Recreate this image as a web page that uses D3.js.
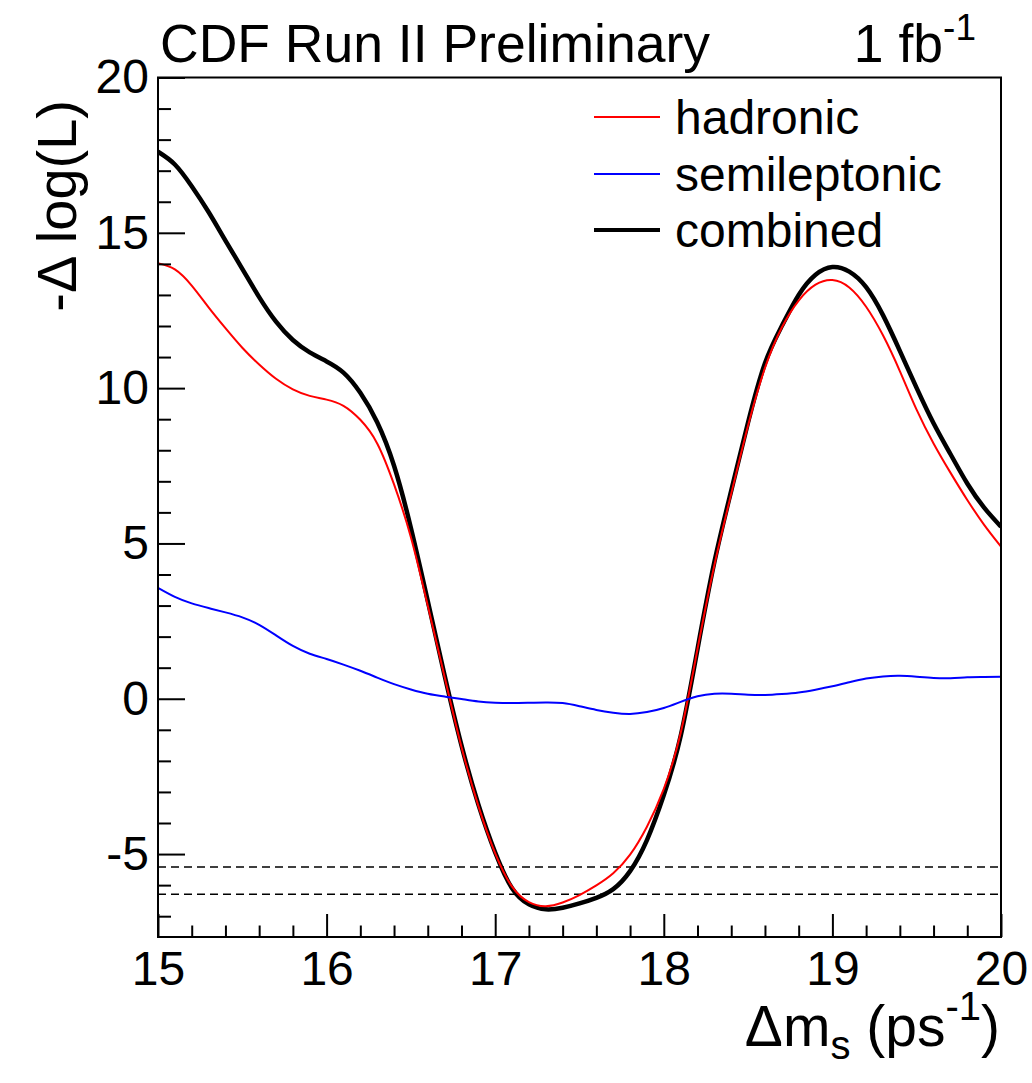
<!DOCTYPE html>
<html>
<head>
<meta charset="utf-8">
<script src="https://cdn.jsdelivr.net/npm/d3@7"></script>
<style>
  html, body { margin: 0; padding: 0; background: #fff; }
  svg { display: block; }
  text { font-family: "Liberation Sans", Arial, Helvetica, sans-serif; fill: #000; }
</style>
</head>
<body>
<svg id="chart" width="1032" height="1083"></svg>
<script>
// ---- data ----
const dms = [15.0,15.1,15.2,15.3,15.4,15.5,15.6,15.7,15.8,15.9,
             16.0,16.1,16.2,16.3,16.4,16.5,16.6,16.7,16.8,16.9,
             17.0,17.1,17.2,17.3,17.4,17.5,17.6,17.7,17.8,17.9,
             18.0,18.1,18.2,18.3,18.4,18.5,18.6,18.7,18.8,18.9,
             19.0,19.1,19.2,19.3,19.4,19.5,19.6,19.7,19.8,19.9,20.0];
const hadronic = [14.02,13.82,13.3,12.6,11.93,11.3,10.76,10.3,9.96,9.75,
                  9.63,9.43,8.98,8.22,6.9,5.2,3.0,0.7,-1.55,-3.45,
                  -4.98,-6.05,-6.55,-6.68,-6.56,-6.32,-6.01,-5.62,-5.02,-4.12,
                  -2.9,-1.1,1.6,4.3,6.6,8.8,10.65,11.95,12.82,13.33,
                  13.48,13.24,12.62,11.7,10.55,9.3,8.22,7.28,6.4,5.6,4.9];
const semileptonic = [3.57,3.28,3.07,2.92,2.78,2.62,2.38,2.04,1.7,1.45,
                      1.28,1.1,0.9,0.68,0.47,0.3,0.16,0.07,-0.01,-0.09,
                      -0.13,-0.14,-0.13,-0.12,-0.14,-0.24,-0.36,-0.45,-0.49,-0.43,
                      -0.3,-0.1,0.08,0.16,0.16,0.13,0.12,0.15,0.2,0.29,
                      0.4,0.53,0.65,0.72,0.74,0.71,0.67,0.66,0.69,0.7,0.71];
const combined = [17.61,17.2,16.5,15.67,14.75,13.84,12.93,12.14,11.55,11.15,
                  10.86,10.5,9.85,8.9,7.5,5.5,3.15,0.75,-1.5,-3.4,
                  -4.95,-6.1,-6.62,-6.78,-6.73,-6.59,-6.41,-6.13,-5.55,-4.55,
                  -3.1,-1.2,1.6,4.4,6.7,8.9,10.8,12.0,13.0,13.65,
                  13.9,13.75,13.25,12.35,11.2,10.0,8.87,7.88,6.93,6.15,5.54];
const dashedLevels = [-5.42, -6.29];
const xTicks = [15,16,17,18,19,20];
const yTicks = [-5,0,5,10,15,20];
const seriesNames = ["hadronic","semileptonic","combined"];
const seriesColors = ["#ff0000","#0000ff","#000000"];
const seriesWidths = [2, 2, 4.5];

// ---- layout ----
const L = 158, R = 1001, T = 77.5, B = 937;
const svg = d3.select("#chart");
const x = d3.scaleLinear().domain([15,20]).range([L,R]);
const y = d3.scaleLinear().domain([-7.67,20]).range([B,T]);

// dashed lines
svg.selectAll("line.dash").data(dashedLevels).enter().append("line")
  .attr("x1", L).attr("x2", R)
  .attr("y1", d => y(d)).attr("y2", d => y(d))
  .attr("stroke","#000").attr("stroke-width",1.5).attr("stroke-dasharray","8,5");

// curves
const allSeries = [hadronic, semileptonic, combined];
const line = d3.line().x((d,i) => x(dms[i])).y(d => y(d)).curve(d3.curveNatural);
svg.append("defs").append("clipPath").attr("id","clip")
  .append("rect").attr("x",L).attr("y",T).attr("width",R-L).attr("height",B-T);
const g = svg.append("g").attr("clip-path","url(#clip)");
[2,0,1].forEach(k => {
  g.append("path").datum(allSeries[k])
    .attr("d", line).attr("fill","none")
    .attr("stroke", seriesColors[k]).attr("stroke-width", seriesWidths[k])
    .attr("stroke-linejoin","round");
});

// axes
const yMinor = d3.range(-7, 21, 1).filter(v => v % 5 !== 0);
const xMinor = d3.range(15, 20.001, 0.2).map(v => +v.toFixed(1)).filter(v => Math.abs(v - Math.round(v)) > 1e-6);

const fmt = d => String(d);
const yAxisMajor = d3.axisLeft(y).tickValues(yTicks).tickSize(-27).tickPadding(9).tickFormat(fmt);
const yAxisMinor = d3.axisLeft(y).tickValues(yMinor).tickSize(-13).tickFormat("");
const xAxisMajor = d3.axisBottom(x).tickValues(xTicks).tickSize(-23).tickPadding(14).tickFormat(fmt);
const xAxisMinor = d3.axisBottom(x).tickValues(xMinor).tickSize(-11.5).tickFormat("");

function styleAxis(sel) {
  sel.select(".domain").remove();
  sel.selectAll(".tick line").attr("stroke","#000").attr("stroke-width",2);
  sel.selectAll(".tick text").attr("font-size",48).style("font-family","'Liberation Sans', Arial, sans-serif");
}
svg.append("g").attr("transform",`translate(${L},0)`).call(yAxisMajor).call(styleAxis);
svg.append("g").attr("transform",`translate(${L},0)`).call(yAxisMinor).call(styleAxis);
svg.append("g").attr("transform",`translate(0,${B})`).call(xAxisMajor).call(styleAxis);
svg.append("g").attr("transform",`translate(0,${B})`).call(xAxisMinor).call(styleAxis);

// frame
svg.append("rect").attr("x",L).attr("y",T).attr("width",R-L).attr("height",B-T)
  .attr("fill","none").attr("stroke","#000").attr("stroke-width",2);

// title texts
svg.append("text").attr("x",160).attr("y",62).attr("font-size",53.5).text("CDF Run II Preliminary");
const lum = svg.append("text").attr("x",976).attr("y",62).attr("font-size",53.5).attr("text-anchor","end");
lum.append("tspan").text("1 fb");
lum.append("tspan").attr("dy",-22).attr("font-size",37).text("-1");

// axis titles
const xt = svg.append("text").attr("x",1000).attr("y",1046).attr("font-size",57).attr("text-anchor","end");
xt.append("tspan").text("\u0394m");
xt.append("tspan").attr("dy",13).attr("font-size",40).text("s");
xt.append("tspan").attr("dy",-13).text(" (ps");
xt.append("tspan").attr("dy",-26).attr("font-size",40).text("-1");
xt.append("tspan").attr("dy",26).text(")");

svg.append("text").attr("transform","translate(76,100) rotate(-90)")
  .attr("text-anchor","end").attr("font-size",56).text("-\u0394 log(L)");

// legend
const legY = [117, 174, 230];
const leg = svg.append("g");
seriesNames.forEach((n,i) => {
  leg.append("line").attr("x1",594).attr("x2",660).attr("y1",legY[i]).attr("y2",legY[i])
    .attr("stroke",seriesColors[i]).attr("stroke-width", i===2 ? 4 : 2);
  leg.append("text").attr("x",675).attr("y",legY[i]+17).attr("font-size",48).text(n);
});
</script>
</body>
</html>
